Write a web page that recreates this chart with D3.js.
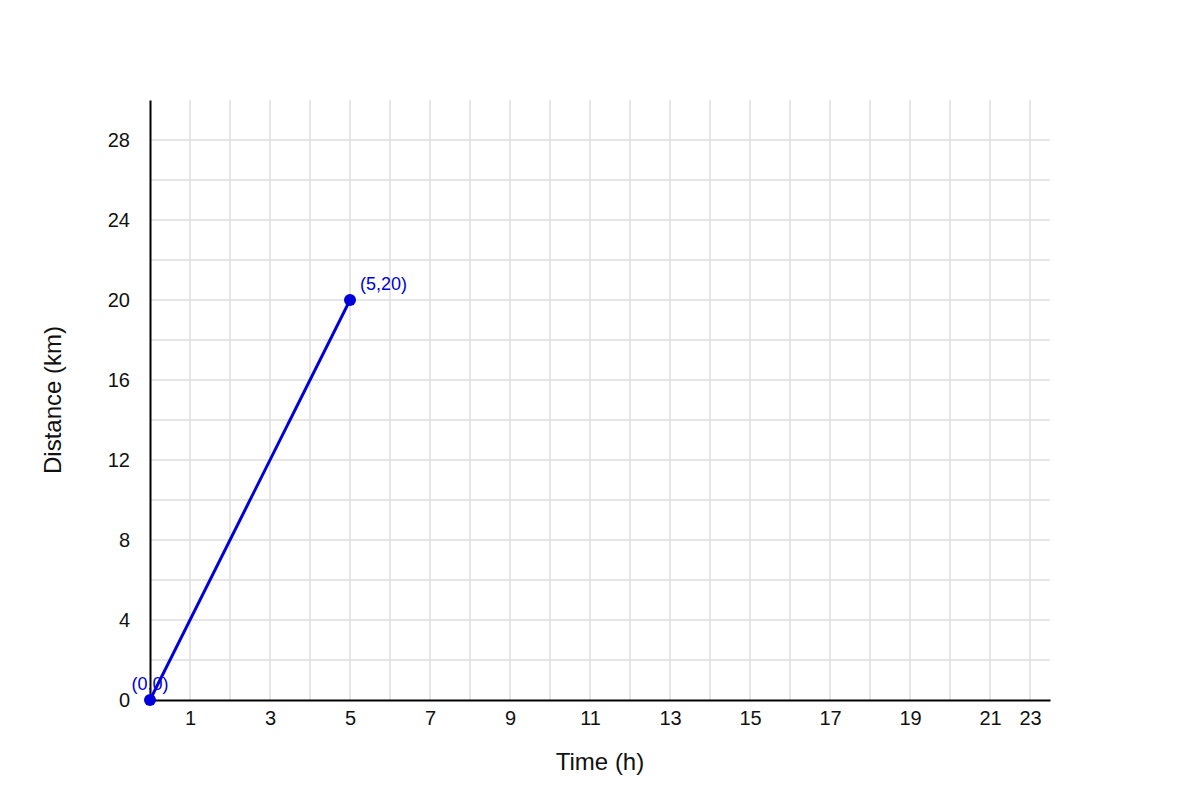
<!DOCTYPE html>
<html>
<head>
<meta charset="utf-8">
<script src="https://cdn.jsdelivr.net/npm/d3@7"></script>
<style>
  body { margin: 0; background: #fff; }
  text { font-family: "Liberation Sans", Arial, sans-serif; }
</style>
</head>
<body>
<svg id="chart"></svg>
<script>
 var width = 1200;
 var height = 800;
 const margin = { top: 100, right: 150, bottom: 100, left: 150 };

 // data
 const timeH = [0, 5];
 const distanceKm = [0, 20];
 const pointLabels = ["(0,0)", "(5,20)"];

 // ticks
 const xTickValues = [1, 3, 5, 7, 9, 11, 13, 15, 17, 19, 21, 22];
 const xTickLabels = ["1", "3", "5", "7", "9", "11", "13", "15", "17", "19", "21", "23"];
 const yTickValues = [0, 4, 8, 12, 16, 20, 24, 28];
 const xGridValues = d3.range(1, 23);
 const yGridValues = d3.range(2, 30, 2);

 const svg = d3.select("#chart")
   .attr("width", width)
   .attr("height", height);

 const x = d3.scaleLinear()
   .domain([0, 22.5])
   .range([margin.left, width - margin.right]);

 const y = d3.scaleLinear()
   .domain([0, 30])
   .range([height - margin.bottom, margin.top]);

 // grid
 svg.append("g")
   .selectAll("line")
   .data(xGridValues)
   .enter()
   .append("line")
   .attr("x1", d => x(d))
   .attr("x2", d => x(d))
   .attr("y1", y(0))
   .attr("y2", y(30))
   .attr("stroke", "#dedede")
   .attr("stroke-width", 1.5);

 svg.append("g")
   .selectAll("line")
   .data(yGridValues)
   .enter()
   .append("line")
   .attr("x1", x(0))
   .attr("x2", x(22.5))
   .attr("y1", d => y(d))
   .attr("y2", d => y(d))
   .attr("stroke", "#dedede")
   .attr("stroke-width", 1.5);

 // axes
 const xAxis = svg.append("g")
   .attr("transform", `translate(0, ${y(0)})`)
   .call(d3.axisBottom(x)
     .tickValues(xTickValues)
     .tickFormat((d, i) => xTickLabels[i])
     .tickSize(0)
     .tickPadding(11));

 const yAxis = svg.append("g")
   .attr("transform", `translate(${x(0)}, 0)`)
   .call(d3.axisLeft(y)
     .tickValues(yTickValues)
     .tickSize(0)
     .tickPadding(20));

 [xAxis, yAxis].forEach(a => {
   a.select(".domain").attr("stroke", "#000").attr("stroke-width", 2);
   a.selectAll("text")
     .attr("fill", "#111")
     .style("font-size", "20px")
     .style("font-family", "'Liberation Sans', Arial, sans-serif");
 });

 // axis titles
 svg.append("text")
   .attr("x", (x(0) + x(22.5)) / 2)
   .attr("y", 770)
   .attr("text-anchor", "middle")
   .style("font-size", "24px")
   .attr("fill", "#111")
   .text("Time (h)");

 svg.append("text")
   .attr("transform", `translate(61, ${(y(0) + y(30)) / 2}) rotate(-90)`)
   .attr("text-anchor", "middle")
   .style("font-size", "24px")
   .attr("fill", "#111")
   .text("Distance (km)");

 // line + points
 const points = timeH.map((t, i) => ({ t: t, d: distanceKm[i], label: pointLabels[i] }));
 const blue = "#0000dd";

 svg.append("path")
   .datum(points)
   .attr("fill", "none")
   .attr("stroke", blue)
   .attr("stroke-width", 3)
   .attr("d", d3.line().x(d => x(d.t)).y(d => y(d.d)));

 svg.append("g")
   .selectAll("circle")
   .data(points)
   .enter()
   .append("circle")
   .attr("cx", d => x(d.t))
   .attr("cy", d => y(d.d))
   .attr("r", 6)
   .attr("fill", blue);

 svg.append("g")
   .selectAll("text")
   .data(points)
   .enter()
   .append("text")
   .attr("x", (d, i) => x(d.t) + (i === 0 ? 0 : 10))
   .attr("y", d => y(d.d) - 10)
   .attr("text-anchor", (d, i) => i === 0 ? "middle" : "start")
   .style("font-size", "18px")
   .attr("fill", blue)
   .text(d => d.label);
</script>
</body>
</html>
